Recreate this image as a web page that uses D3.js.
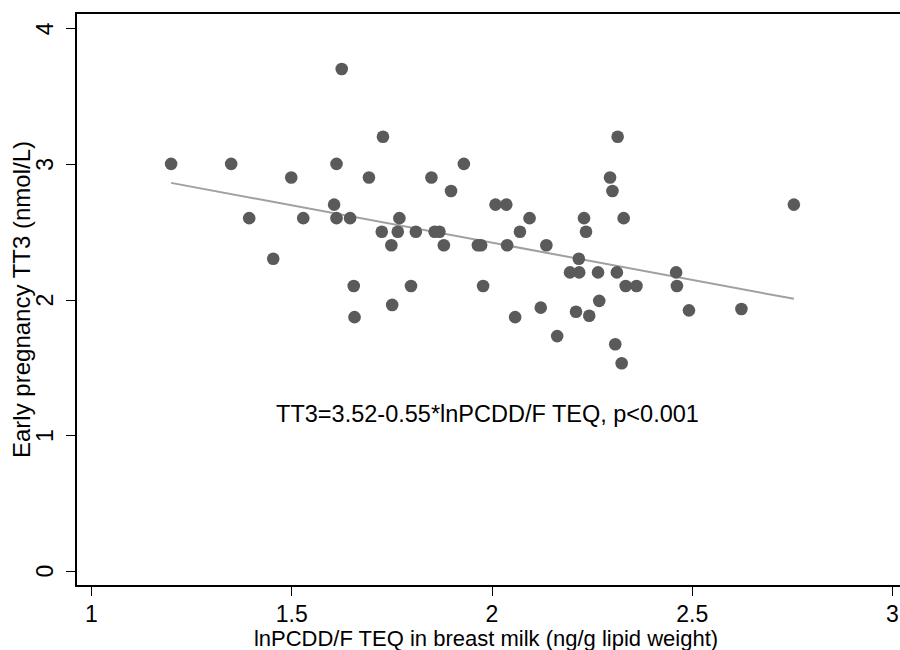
<!DOCTYPE html>
<meta charset="utf-8">
<style>

body {
  margin: 0;
  background: #fff;
  overflow: hidden;
}

svg {
  font-family: "Liberation Sans", Arial, sans-serif;
  display: block;
}

.axis path {
  display: none;
}

.axis line {
  stroke: #000;
  shape-rendering: crispEdges;
}

.axis text {
  font-size: 23px;
  fill: #000;
}

</style>
<body>
<script src="https://cdn.jsdelivr.net/npm/d3@7"></script>
<script>

var width = 900,
    height = 650;

// lnPCDD/F TEQ in breast milk
var teq = [1.20, 1.35, 1.395, 1.455, 1.50, 1.53, 1.607, 1.613, 1.613, 1.626,
           1.647, 1.656, 1.658, 1.694, 1.726, 1.729, 1.750, 1.752, 1.766, 1.770,
           1.799, 1.811, 1.850, 1.858, 1.870, 1.881, 1.899, 1.931, 1.966, 1.974,
           1.979, 2.010, 2.037, 2.039, 2.059, 2.071, 2.095, 2.123, 2.137, 2.164,
           2.196, 2.211, 2.218, 2.219, 2.231, 2.236, 2.244, 2.266, 2.269, 2.296,
           2.302, 2.309, 2.313, 2.315, 2.325, 2.330, 2.335, 2.362, 2.461, 2.463,
           2.493, 2.624, 2.755];

// early pregnancy TT3 (nmol/L)
var tt3 = [3.00, 3.00, 2.60, 2.30, 2.90, 2.60, 2.70, 3.00, 2.60, 3.70,
           2.60, 2.10, 1.87, 2.90, 2.50, 3.20, 2.40, 1.96, 2.50, 2.60,
           2.10, 2.50, 2.90, 2.50, 2.50, 2.40, 2.80, 3.00, 2.40, 2.40,
           2.10, 2.70, 2.70, 2.40, 1.87, 2.50, 2.60, 1.94, 2.40, 1.73,
           2.20, 1.91, 2.30, 2.20, 2.60, 2.50, 1.88, 2.20, 1.99, 2.90,
           2.80, 1.67, 2.20, 3.20, 1.53, 2.60, 2.10, 2.10, 2.20, 2.10,
           1.92, 1.93, 2.70];

var xTicks = [1, 1.5, 2, 2.5, 3];
var yTicks = [0, 1, 2, 3, 4];

// fitted line from the annotation
var intercept = 3.52,
    slope = -0.55;
var note = "TT3=3.52-0.55*lnPCDD/F TEQ, p<0.001";

var points = teq.map(function (d, i) { return {x: d, y: tt3[i]}; });

var svg = d3.select("body").append("svg")
    .attr("width", width)
    .attr("height", height);

// plot region edges ("top" is taken by window.top)
var pLeft = 76, pTop = 13, pBottom = 586, pRight = 910;

var x = d3.scaleLinear().domain([1, 3]).range([91, 892]);
var y = d3.scaleLinear().domain([0, 4]).range([570.7, 28.3]);

// plot frame, its right side falls outside the picture
svg.append("path")
    .attr("d", "M" + pRight + "," + pTop + "H" + pLeft + "V" + pBottom + "H" + pRight)
    .attr("fill", "none")
    .attr("stroke", "#000")
    .attr("stroke-width", 2);

// x axis
svg.append("g")
    .attr("class", "axis")
    .attr("transform", "translate(0," + pBottom + ")")
    .call(d3.axisBottom(x).tickValues(xTicks).tickSize(10).tickPadding(10)
      .tickFormat(d3.format("~g")));

// y axis, labels turned on their side
var gy = svg.append("g")
    .attr("class", "axis")
    .attr("transform", "translate(" + pLeft + ",0)")
    .call(d3.axisLeft(y).tickValues(yTicks).tickSize(10).tickFormat(d3.format("~g")));

gy.selectAll(".tick text")
    .attr("transform", "rotate(-90)")
    .attr("x", 0)
    .attr("y", -23)
    .attr("dy", 0)
    .attr("text-anchor", "middle");

// fitted line
var xr = d3.extent(teq);
svg.append("line")
    .attr("x1", x(xr[0]))
    .attr("y1", y(intercept + slope * xr[0]))
    .attr("x2", x(xr[1]))
    .attr("y2", y(intercept + slope * xr[1]))
    .attr("stroke", "#a0a0a0")
    .attr("stroke-width", 2);

// points
svg.selectAll("circle")
    .data(points)
    .enter().append("circle")
    .attr("cx", function (d) { return x(d.x); })
    .attr("cy", function (d) { return y(d.y); })
    .attr("r", 6.3)
    .attr("fill", "#5a5a5a");

// annotation
svg.append("text")
    .attr("x", x(1.99))
    .attr("y", y(1.1))
    .attr("text-anchor", "middle")
    .style("font-size", "23.5px")
    .text(note);

// axis titles
svg.append("text")
    .attr("x", 486)
    .attr("y", 646)
    .attr("text-anchor", "middle")
    .style("font-size", "22px")
    .text("lnPCDD/F TEQ in breast milk (ng/g lipid weight)");

svg.append("text")
    .attr("transform", "translate(30," + (pTop + pBottom) / 2 + ") rotate(-90)")
    .attr("text-anchor", "middle")
    .style("font-size", "24px")
    .text("Early pregnancy TT3 (nmol/L)");

</script>
